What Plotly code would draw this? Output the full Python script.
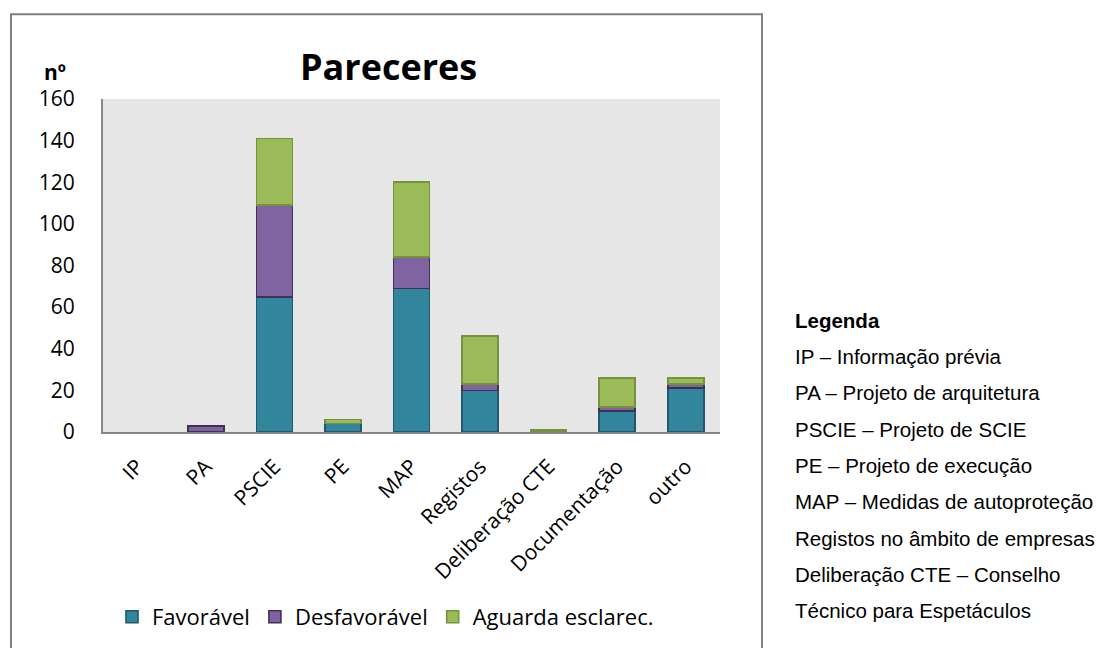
import plotly.graph_objects as go

categories = ["IP", "PA", "PSCIE", "PE", "MAP", "Registos", "Deliberação CTE", "Documentação", "outro"]
favoravel = [0, 0, 65, 4, 69, 20, 0, 10, 21]
desfavoravel = [0, 3, 44, 0, 15, 3, 0, 2, 2]
aguarda = [0, 0, 32, 2, 36, 23, 1, 14, 3]
y_ticks = [0, 20, 40, 60, 80, 100, 120, 140, 160]

legend_title = "Legenda"
legend_lines = [
    "IP – Informação prévia",
    "PA – Projeto de arquitetura",
    "PSCIE – Projeto de SCIE",
    "PE – Projeto de execução",
    "MAP – Medidas de autoproteção",
    "Registos no âmbito de empresas",
    "Deliberação CTE – Conselho",
    "Técnico para Espetáculos",
]

# page body has an 8px margin; figure coordinates are shifted accordingly
OFF = 8
W, H = 1106 - OFF, 648 - OFF
L, R, T, B = 103 - OFF, 720 - OFF, 99 - OFF, 433 - OFF
pw, ph = R - L, B - T


def px(x):
    return (x - OFF - L) / pw


def py(y):
    return (B - (y - OFF)) / ph


FONT = "Open Sans"
fig = go.Figure()
series = [
    ("Favorável", favoravel, "#31859C", "#215968"),
    ("Desfavorável", desfavoravel, "#8064A2", "#3F3151"),
    ("Aguarda esclarec.", aguarda, "#9BBB59", "#76923C"),
]
for name, vals, fill, line in series:
    fig.add_trace(go.Bar(
        x=categories, y=[v if v else None for v in vals], name=name,
        marker=dict(color=fill, line=dict(color=line, width=1.6)),
    ))

annotations = [
    dict(text="<b>Pareceres</b>", x=px(388), y=py(66), xref="paper", yref="paper",
         showarrow=False, font=dict(family=FONT, size=36, color="#000000"),
         xanchor="center", yanchor="middle"),
    dict(text="<b>nº</b>", x=px(42), y=py(72), xref="paper", yref="paper",
         showarrow=False, font=dict(family=FONT, size=21, color="#000000"),
         xanchor="left", yanchor="middle"),
    dict(text="<b>" + legend_title + "</b>", x=px(793), y=py(321), xref="paper", yref="paper",
         showarrow=False, font=dict(family="Liberation Sans", size=20.5, color="#000000"),
         xanchor="left", yanchor="middle"),
]
for i, line in enumerate(legend_lines):
    yy = 321 + (i + 1) * 36.4
    annotations.append(dict(
        text=line, x=px(793), y=py(yy), xref="paper", yref="paper",
        showarrow=False, font=dict(family="Liberation Sans", size=20.5, color="#000000"),
        xanchor="left", yanchor="middle"))

fig.update_layout(
    width=W, height=H,
    barmode="stack", bargap=0.475,
    paper_bgcolor="white", plot_bgcolor="#E6E6E6",
    margin=dict(l=L, r=W - R, t=T, b=H - B, pad=0),
    font=dict(family=FONT, size=21, color="#000000"),
    showlegend=True,
    legend=dict(orientation="h", x=px(112), y=py(617), xanchor="left", yanchor="middle",
                font=dict(family=FONT, size=22, color="#000000"),
                itemwidth=30, traceorder="normal", bgcolor="rgba(0,0,0,0)"),
    annotations=annotations,
    shapes=[dict(type="rect", xref="paper", yref="paper",
                 x0=px(11), x1=px(762), y0=py(670), y1=py(14),
                 line=dict(color="#808080", width=2), fillcolor="rgba(0,0,0,0)")],
)
fig.update_xaxes(showline=True, linecolor="#868686", linewidth=2, showgrid=False,
                 tickangle=-45, ticks="outside", ticklen=12, tickcolor="rgba(0,0,0,0)",
                 tickfont=dict(family=FONT, size=21, color="#000000"))
fig.update_yaxes(range=[0, 160], tickvals=y_ticks, showline=True, linecolor="#868686",
                 linewidth=2, showgrid=False, zeroline=False,
                 ticks="outside", ticklen=22, tickcolor="rgba(0,0,0,0)",
                 tickfont=dict(family=FONT, size=21, color="#000000"))

fig.write_html("out.html")
